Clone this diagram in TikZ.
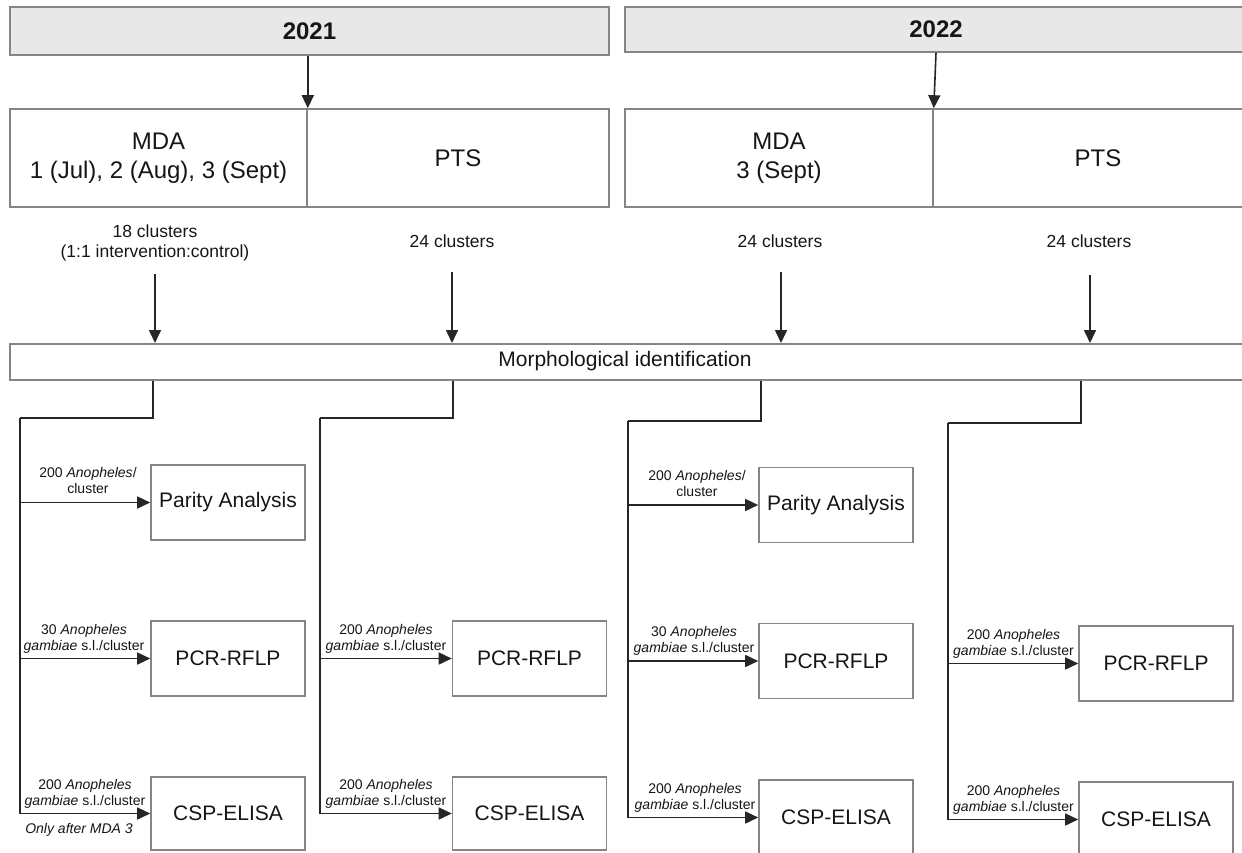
\documentclass[tikz,border=0pt]{standalone}
\usepackage{fontspec}
\setmainfont{Liberation Sans}
\usetikzlibrary{arrows.meta}
\definecolor{hdrfill}{HTML}{E8E8E8}
\definecolor{boxline}{HTML}{858585}
\definecolor{conline}{HTML}{262626}
\definecolor{txt}{HTML}{161616}
\begin{document}
\begin{tikzpicture}[x=1pt,y=-1pt,
  box/.style={draw=boxline,line width=1.6pt,rectangle,inner sep=0pt,text=txt,align=center},
  hdr/.style={box,fill=hdrfill,font=\fontsize{24}{28}\selectfont\bfseries},
  period/.style={box,font=\fontsize{24}{29}\selectfont},
  assay/.style={box,minimum width=154pt,minimum height=75pt,font=\fontsize{21}{25}\selectfont},
  lbl/.style={text=txt,align=center,inner sep=0pt,text depth=0pt,anchor=south,font=\fontsize{14}{16}\selectfont},
  clab/.style={text=txt,align=center,inner sep=0pt,font=\fontsize{17.5}{20.5}\selectfont},
  arr/.style={draw=conline,line width=1.6pt,line join=miter,-{Triangle[length=13pt,width=12pt]}},
  con/.style={draw=conline,line width=1.6pt,line join=miter},
]
\fill[white] (0,0) rectangle (1242,852);
\useasboundingbox (0,0) rectangle (1242,852);
\clip (0,0) rectangle (1242,852);

% year headers
\node[hdr,minimum width=599pt,minimum height=48pt] (h21) at (309.5,31) {2021};
\node[hdr,minimum width=622pt,minimum height=45pt] (h22) at (936,29.5) {2022};

% period boxes
\node[period,minimum width=297pt,minimum height=98pt] (mda21) at (158.5,158) {MDA\\1 (Jul), 2 (Aug), 3 (Sept)};
\node[period,minimum width=302pt,minimum height=98pt] (pts21) at (458,158) {PTS};
\node[period,minimum width=308pt,minimum height=98pt] (mda22) at (779,158) {MDA\\3 (Sept)};
\node[period,minimum width=330pt,minimum height=98pt] (pts22) at (1098,158) {PTS};

\draw[arr] (h21.south -| mda21.north east) -- (mda21.north east);
\draw[arr] (h22.south) -- (mda22.north east);

% cluster labels
\node[clab] (c1) at (155,243) {18 clusters\\(1:1 intervention:control)};
\node[clab] (c2) at (452,241) {24 clusters};
\node[clab] (c3) at (780,241) {24 clusters};
\node[clab] (c4) at (1089,241) {24 clusters};

% morphological identification
\node[box,minimum width=1241pt,minimum height=36pt,anchor=north west] (morph) at (9,343) {};
\node[text=txt,inner sep=0pt,font=\fontsize{21}{24}\selectfont] (morphtxt) at (625,361) {Morphological identification};

\coordinate (d1) at (155,274);
\coordinate (d2) at (452,272);
\coordinate (d3) at (781,272);
\coordinate (d4) at (1090,275);
\draw[arr] (d1) -- (d1 |- morph.north);
\draw[arr] (d2) -- (d2 |- morph.north);
\draw[arr] (d3) -- (d3 |- morph.north);
\draw[arr] (d4) -- (d4 |- morph.north);

% assay boxes
\node[assay] (par1) at (228,502.5) {Parity Analysis};
\node[assay] (pcr1) at (228,658.5) {PCR-RFLP};
\node[assay,minimum height=73pt] (csp1) at (228,813.5) {CSP-ELISA};
\node[assay] (pcr2) at (529.5,658.5) {PCR-RFLP};
\node[assay,minimum height=73pt] (csp2) at (529.5,813.5) {CSP-ELISA};
\node[assay] (par3) at (836,505) {Parity Analysis};
\node[assay] (pcr3) at (836,661) {PCR-RFLP};
\node[assay] (csp3) at (836,817.5) {CSP-ELISA};
\node[assay] (pcr4) at (1156,663.5) {PCR-RFLP};
\node[assay] (csp4) at (1156,819.5) {CSP-ELISA};

% branches
\coordinate (j1) at (153,418);  \coordinate (t1) at (20,418);
\coordinate (j2) at (453,418);  \coordinate (t2) at (320,418);
\coordinate (j3) at (761,421);  \coordinate (t3) at (628,421);
\coordinate (j4) at (1081,423); \coordinate (t4) at (948,423);

\draw[con] (j1 |- morph.south) -- (j1) -- (t1);
\draw[arr] (t1) -- (t1 |- csp1.west) -- (csp1.west);
\draw[arr] (t1 |- par1.west) -- (par1.west);
\draw[arr] (t1 |- pcr1.west) -- (pcr1.west);

\draw[con] (j2 |- morph.south) -- (j2) -- (t2);
\draw[arr] (t2) -- (t2 |- csp2.west) -- (csp2.west);
\draw[arr] (t2 |- pcr2.west) -- (pcr2.west);

\draw[con] (j3 |- morph.south) -- (j3) -- (t3);
\draw[arr] (t3) -- (t3 |- csp3.west) -- (csp3.west);
\draw[arr] (t3 |- par3.west) -- (par3.west);
\draw[arr] (t3 |- pcr3.west) -- (pcr3.west);

\draw[con] (j4 |- morph.south) -- (j4) -- (t4);
\draw[arr] (t4) -- (t4 |- csp4.west) -- (csp4.west);
\draw[arr] (t4 |- pcr4.west) -- (pcr4.west);

% arrow labels
\node[lbl] (l1a) at (88,494) {200 \textit{Anopheles}/\\cluster};
\node[lbl] (l1b) at (84,651) {30 \textit{Anopheles}\\\textit{gambiae} s.l./cluster};
\node[lbl] (l1c) at (85,806) {200 \textit{Anopheles}\\\textit{gambiae} s.l./cluster};
\node[text=txt,inner sep=0pt,anchor=base,font=\fontsize{14}{16}\selectfont\itshape] (l1d) at (79,833) {Only after MDA 3};
\node[lbl] (l2b) at (386,651) {200 \textit{Anopheles}\\\textit{gambiae} s.l./cluster};
\node[lbl] (l2c) at (386,806) {200 \textit{Anopheles}\\\textit{gambiae} s.l./cluster};
\node[lbl] (l3a) at (697,497) {200 \textit{Anopheles}/\\cluster};
\node[lbl] (l3b) at (694,653) {30 \textit{Anopheles}\\\textit{gambiae} s.l./cluster};
\node[lbl] (l3c) at (695,809.5) {200 \textit{Anopheles}\\\textit{gambiae} s.l./cluster};
\node[lbl] (l4b) at (1013.5,655.5) {200 \textit{Anopheles}\\\textit{gambiae} s.l./cluster};
\node[lbl] (l4c) at (1013.5,811.5) {200 \textit{Anopheles}\\\textit{gambiae} s.l./cluster};
\end{tikzpicture}
\end{document}
